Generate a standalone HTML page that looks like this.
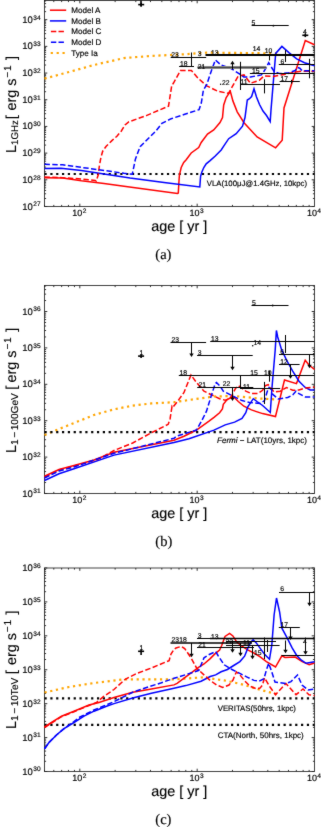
<!DOCTYPE html>
<html><head><meta charset="utf-8"><style>
html,body{margin:0;padding:0;background:#fff;}
body{width:321px;height:827px;overflow:hidden;}
svg{display:block;font-family:"Liberation Sans", sans-serif;text-rendering:geometricPrecision;will-change:transform;} text{stroke:#000;stroke-width:0.16px;} .nb{stroke-width:0.14px;}
</style></head><body>
<svg width="321" height="827" viewBox="0 0 321 827">
<defs><filter id="bl" color-interpolation-filters="sRGB" x="0" y="0" width="321" height="827" filterUnits="userSpaceOnUse" primitiveUnits="userSpaceOnUse"><feConvolveMatrix order="3" kernelMatrix="0.015 0.06 0.015 0.06 0.7 0.06 0.015 0.06 0.015" edgeMode="duplicate"/></filter></defs>
<g filter="url(#bl)">
<rect x="0" y="0" width="321" height="827" fill="#fff"/>
<line x1="44.50" y1="206.50" x2="44.50" y2="204.90" stroke="#000" stroke-width="0.8" />
<line x1="44.50" y1="0.50" x2="44.50" y2="2.10" stroke="#000" stroke-width="0.8" />
<line x1="53.79" y1="206.50" x2="53.79" y2="204.90" stroke="#000" stroke-width="0.8" />
<line x1="53.79" y1="0.50" x2="53.79" y2="2.10" stroke="#000" stroke-width="0.8" />
<line x1="61.65" y1="206.50" x2="61.65" y2="204.90" stroke="#000" stroke-width="0.8" />
<line x1="61.65" y1="0.50" x2="61.65" y2="2.10" stroke="#000" stroke-width="0.8" />
<line x1="68.45" y1="206.50" x2="68.45" y2="204.90" stroke="#000" stroke-width="0.8" />
<line x1="68.45" y1="0.50" x2="68.45" y2="2.10" stroke="#000" stroke-width="0.8" />
<line x1="74.45" y1="206.50" x2="74.45" y2="204.90" stroke="#000" stroke-width="0.8" />
<line x1="74.45" y1="0.50" x2="74.45" y2="2.10" stroke="#000" stroke-width="0.8" />
<line x1="79.82" y1="206.50" x2="79.82" y2="203.70" stroke="#000" stroke-width="0.8" />
<line x1="79.82" y1="0.50" x2="79.82" y2="3.30" stroke="#000" stroke-width="0.8" />
<line x1="115.14" y1="206.50" x2="115.14" y2="204.90" stroke="#000" stroke-width="0.8" />
<line x1="115.14" y1="0.50" x2="115.14" y2="2.10" stroke="#000" stroke-width="0.8" />
<line x1="135.81" y1="206.50" x2="135.81" y2="204.90" stroke="#000" stroke-width="0.8" />
<line x1="135.81" y1="0.50" x2="135.81" y2="2.10" stroke="#000" stroke-width="0.8" />
<line x1="150.47" y1="206.50" x2="150.47" y2="204.90" stroke="#000" stroke-width="0.8" />
<line x1="150.47" y1="0.50" x2="150.47" y2="2.10" stroke="#000" stroke-width="0.8" />
<line x1="161.84" y1="206.50" x2="161.84" y2="204.90" stroke="#000" stroke-width="0.8" />
<line x1="161.84" y1="0.50" x2="161.84" y2="2.10" stroke="#000" stroke-width="0.8" />
<line x1="171.13" y1="206.50" x2="171.13" y2="204.90" stroke="#000" stroke-width="0.8" />
<line x1="171.13" y1="0.50" x2="171.13" y2="2.10" stroke="#000" stroke-width="0.8" />
<line x1="178.99" y1="206.50" x2="178.99" y2="204.90" stroke="#000" stroke-width="0.8" />
<line x1="178.99" y1="0.50" x2="178.99" y2="2.10" stroke="#000" stroke-width="0.8" />
<line x1="185.79" y1="206.50" x2="185.79" y2="204.90" stroke="#000" stroke-width="0.8" />
<line x1="185.79" y1="0.50" x2="185.79" y2="2.10" stroke="#000" stroke-width="0.8" />
<line x1="191.79" y1="206.50" x2="191.79" y2="204.90" stroke="#000" stroke-width="0.8" />
<line x1="191.79" y1="0.50" x2="191.79" y2="2.10" stroke="#000" stroke-width="0.8" />
<line x1="197.16" y1="206.50" x2="197.16" y2="203.70" stroke="#000" stroke-width="0.8" />
<line x1="197.16" y1="0.50" x2="197.16" y2="3.30" stroke="#000" stroke-width="0.8" />
<line x1="232.48" y1="206.50" x2="232.48" y2="204.90" stroke="#000" stroke-width="0.8" />
<line x1="232.48" y1="0.50" x2="232.48" y2="2.10" stroke="#000" stroke-width="0.8" />
<line x1="253.15" y1="206.50" x2="253.15" y2="204.90" stroke="#000" stroke-width="0.8" />
<line x1="253.15" y1="0.50" x2="253.15" y2="2.10" stroke="#000" stroke-width="0.8" />
<line x1="267.81" y1="206.50" x2="267.81" y2="204.90" stroke="#000" stroke-width="0.8" />
<line x1="267.81" y1="0.50" x2="267.81" y2="2.10" stroke="#000" stroke-width="0.8" />
<line x1="279.18" y1="206.50" x2="279.18" y2="204.90" stroke="#000" stroke-width="0.8" />
<line x1="279.18" y1="0.50" x2="279.18" y2="2.10" stroke="#000" stroke-width="0.8" />
<line x1="288.47" y1="206.50" x2="288.47" y2="204.90" stroke="#000" stroke-width="0.8" />
<line x1="288.47" y1="0.50" x2="288.47" y2="2.10" stroke="#000" stroke-width="0.8" />
<line x1="296.32" y1="206.50" x2="296.32" y2="204.90" stroke="#000" stroke-width="0.8" />
<line x1="296.32" y1="0.50" x2="296.32" y2="2.10" stroke="#000" stroke-width="0.8" />
<line x1="303.13" y1="206.50" x2="303.13" y2="204.90" stroke="#000" stroke-width="0.8" />
<line x1="303.13" y1="0.50" x2="303.13" y2="2.10" stroke="#000" stroke-width="0.8" />
<line x1="309.13" y1="206.50" x2="309.13" y2="204.90" stroke="#000" stroke-width="0.8" />
<line x1="309.13" y1="0.50" x2="309.13" y2="2.10" stroke="#000" stroke-width="0.8" />
<line x1="44.50" y1="206.50" x2="47.30" y2="206.50" stroke="#000" stroke-width="0.8" />
<line x1="314.50" y1="206.50" x2="311.70" y2="206.50" stroke="#000" stroke-width="0.8" />
<line x1="44.50" y1="198.47" x2="46.10" y2="198.47" stroke="#000" stroke-width="0.8" />
<line x1="314.50" y1="198.47" x2="312.90" y2="198.47" stroke="#000" stroke-width="0.8" />
<line x1="44.50" y1="193.77" x2="46.10" y2="193.77" stroke="#000" stroke-width="0.8" />
<line x1="314.50" y1="193.77" x2="312.90" y2="193.77" stroke="#000" stroke-width="0.8" />
<line x1="44.50" y1="190.43" x2="46.10" y2="190.43" stroke="#000" stroke-width="0.8" />
<line x1="314.50" y1="190.43" x2="312.90" y2="190.43" stroke="#000" stroke-width="0.8" />
<line x1="44.50" y1="187.84" x2="46.10" y2="187.84" stroke="#000" stroke-width="0.8" />
<line x1="314.50" y1="187.84" x2="312.90" y2="187.84" stroke="#000" stroke-width="0.8" />
<line x1="44.50" y1="185.73" x2="46.10" y2="185.73" stroke="#000" stroke-width="0.8" />
<line x1="314.50" y1="185.73" x2="312.90" y2="185.73" stroke="#000" stroke-width="0.8" />
<line x1="44.50" y1="183.94" x2="46.10" y2="183.94" stroke="#000" stroke-width="0.8" />
<line x1="314.50" y1="183.94" x2="312.90" y2="183.94" stroke="#000" stroke-width="0.8" />
<line x1="44.50" y1="182.40" x2="46.10" y2="182.40" stroke="#000" stroke-width="0.8" />
<line x1="314.50" y1="182.40" x2="312.90" y2="182.40" stroke="#000" stroke-width="0.8" />
<line x1="44.50" y1="181.03" x2="46.10" y2="181.03" stroke="#000" stroke-width="0.8" />
<line x1="314.50" y1="181.03" x2="312.90" y2="181.03" stroke="#000" stroke-width="0.8" />
<line x1="44.50" y1="179.81" x2="47.30" y2="179.81" stroke="#000" stroke-width="0.8" />
<line x1="314.50" y1="179.81" x2="311.70" y2="179.81" stroke="#000" stroke-width="0.8" />
<line x1="44.50" y1="171.78" x2="46.10" y2="171.78" stroke="#000" stroke-width="0.8" />
<line x1="314.50" y1="171.78" x2="312.90" y2="171.78" stroke="#000" stroke-width="0.8" />
<line x1="44.50" y1="167.08" x2="46.10" y2="167.08" stroke="#000" stroke-width="0.8" />
<line x1="314.50" y1="167.08" x2="312.90" y2="167.08" stroke="#000" stroke-width="0.8" />
<line x1="44.50" y1="163.74" x2="46.10" y2="163.74" stroke="#000" stroke-width="0.8" />
<line x1="314.50" y1="163.74" x2="312.90" y2="163.74" stroke="#000" stroke-width="0.8" />
<line x1="44.50" y1="161.15" x2="46.10" y2="161.15" stroke="#000" stroke-width="0.8" />
<line x1="314.50" y1="161.15" x2="312.90" y2="161.15" stroke="#000" stroke-width="0.8" />
<line x1="44.50" y1="159.04" x2="46.10" y2="159.04" stroke="#000" stroke-width="0.8" />
<line x1="314.50" y1="159.04" x2="312.90" y2="159.04" stroke="#000" stroke-width="0.8" />
<line x1="44.50" y1="157.25" x2="46.10" y2="157.25" stroke="#000" stroke-width="0.8" />
<line x1="314.50" y1="157.25" x2="312.90" y2="157.25" stroke="#000" stroke-width="0.8" />
<line x1="44.50" y1="155.71" x2="46.10" y2="155.71" stroke="#000" stroke-width="0.8" />
<line x1="314.50" y1="155.71" x2="312.90" y2="155.71" stroke="#000" stroke-width="0.8" />
<line x1="44.50" y1="154.34" x2="46.10" y2="154.34" stroke="#000" stroke-width="0.8" />
<line x1="314.50" y1="154.34" x2="312.90" y2="154.34" stroke="#000" stroke-width="0.8" />
<line x1="44.50" y1="153.12" x2="47.30" y2="153.12" stroke="#000" stroke-width="0.8" />
<line x1="314.50" y1="153.12" x2="311.70" y2="153.12" stroke="#000" stroke-width="0.8" />
<line x1="44.50" y1="145.09" x2="46.10" y2="145.09" stroke="#000" stroke-width="0.8" />
<line x1="314.50" y1="145.09" x2="312.90" y2="145.09" stroke="#000" stroke-width="0.8" />
<line x1="44.50" y1="140.39" x2="46.10" y2="140.39" stroke="#000" stroke-width="0.8" />
<line x1="314.50" y1="140.39" x2="312.90" y2="140.39" stroke="#000" stroke-width="0.8" />
<line x1="44.50" y1="137.05" x2="46.10" y2="137.05" stroke="#000" stroke-width="0.8" />
<line x1="314.50" y1="137.05" x2="312.90" y2="137.05" stroke="#000" stroke-width="0.8" />
<line x1="44.50" y1="134.46" x2="46.10" y2="134.46" stroke="#000" stroke-width="0.8" />
<line x1="314.50" y1="134.46" x2="312.90" y2="134.46" stroke="#000" stroke-width="0.8" />
<line x1="44.50" y1="132.35" x2="46.10" y2="132.35" stroke="#000" stroke-width="0.8" />
<line x1="314.50" y1="132.35" x2="312.90" y2="132.35" stroke="#000" stroke-width="0.8" />
<line x1="44.50" y1="130.56" x2="46.10" y2="130.56" stroke="#000" stroke-width="0.8" />
<line x1="314.50" y1="130.56" x2="312.90" y2="130.56" stroke="#000" stroke-width="0.8" />
<line x1="44.50" y1="129.02" x2="46.10" y2="129.02" stroke="#000" stroke-width="0.8" />
<line x1="314.50" y1="129.02" x2="312.90" y2="129.02" stroke="#000" stroke-width="0.8" />
<line x1="44.50" y1="127.65" x2="46.10" y2="127.65" stroke="#000" stroke-width="0.8" />
<line x1="314.50" y1="127.65" x2="312.90" y2="127.65" stroke="#000" stroke-width="0.8" />
<line x1="44.50" y1="126.43" x2="47.30" y2="126.43" stroke="#000" stroke-width="0.8" />
<line x1="314.50" y1="126.43" x2="311.70" y2="126.43" stroke="#000" stroke-width="0.8" />
<line x1="44.50" y1="118.40" x2="46.10" y2="118.40" stroke="#000" stroke-width="0.8" />
<line x1="314.50" y1="118.40" x2="312.90" y2="118.40" stroke="#000" stroke-width="0.8" />
<line x1="44.50" y1="113.70" x2="46.10" y2="113.70" stroke="#000" stroke-width="0.8" />
<line x1="314.50" y1="113.70" x2="312.90" y2="113.70" stroke="#000" stroke-width="0.8" />
<line x1="44.50" y1="110.36" x2="46.10" y2="110.36" stroke="#000" stroke-width="0.8" />
<line x1="314.50" y1="110.36" x2="312.90" y2="110.36" stroke="#000" stroke-width="0.8" />
<line x1="44.50" y1="107.77" x2="46.10" y2="107.77" stroke="#000" stroke-width="0.8" />
<line x1="314.50" y1="107.77" x2="312.90" y2="107.77" stroke="#000" stroke-width="0.8" />
<line x1="44.50" y1="105.66" x2="46.10" y2="105.66" stroke="#000" stroke-width="0.8" />
<line x1="314.50" y1="105.66" x2="312.90" y2="105.66" stroke="#000" stroke-width="0.8" />
<line x1="44.50" y1="103.87" x2="46.10" y2="103.87" stroke="#000" stroke-width="0.8" />
<line x1="314.50" y1="103.87" x2="312.90" y2="103.87" stroke="#000" stroke-width="0.8" />
<line x1="44.50" y1="102.33" x2="46.10" y2="102.33" stroke="#000" stroke-width="0.8" />
<line x1="314.50" y1="102.33" x2="312.90" y2="102.33" stroke="#000" stroke-width="0.8" />
<line x1="44.50" y1="100.96" x2="46.10" y2="100.96" stroke="#000" stroke-width="0.8" />
<line x1="314.50" y1="100.96" x2="312.90" y2="100.96" stroke="#000" stroke-width="0.8" />
<line x1="44.50" y1="99.74" x2="47.30" y2="99.74" stroke="#000" stroke-width="0.8" />
<line x1="314.50" y1="99.74" x2="311.70" y2="99.74" stroke="#000" stroke-width="0.8" />
<line x1="44.50" y1="91.71" x2="46.10" y2="91.71" stroke="#000" stroke-width="0.8" />
<line x1="314.50" y1="91.71" x2="312.90" y2="91.71" stroke="#000" stroke-width="0.8" />
<line x1="44.50" y1="87.01" x2="46.10" y2="87.01" stroke="#000" stroke-width="0.8" />
<line x1="314.50" y1="87.01" x2="312.90" y2="87.01" stroke="#000" stroke-width="0.8" />
<line x1="44.50" y1="83.67" x2="46.10" y2="83.67" stroke="#000" stroke-width="0.8" />
<line x1="314.50" y1="83.67" x2="312.90" y2="83.67" stroke="#000" stroke-width="0.8" />
<line x1="44.50" y1="81.08" x2="46.10" y2="81.08" stroke="#000" stroke-width="0.8" />
<line x1="314.50" y1="81.08" x2="312.90" y2="81.08" stroke="#000" stroke-width="0.8" />
<line x1="44.50" y1="78.97" x2="46.10" y2="78.97" stroke="#000" stroke-width="0.8" />
<line x1="314.50" y1="78.97" x2="312.90" y2="78.97" stroke="#000" stroke-width="0.8" />
<line x1="44.50" y1="77.18" x2="46.10" y2="77.18" stroke="#000" stroke-width="0.8" />
<line x1="314.50" y1="77.18" x2="312.90" y2="77.18" stroke="#000" stroke-width="0.8" />
<line x1="44.50" y1="75.64" x2="46.10" y2="75.64" stroke="#000" stroke-width="0.8" />
<line x1="314.50" y1="75.64" x2="312.90" y2="75.64" stroke="#000" stroke-width="0.8" />
<line x1="44.50" y1="74.27" x2="46.10" y2="74.27" stroke="#000" stroke-width="0.8" />
<line x1="314.50" y1="74.27" x2="312.90" y2="74.27" stroke="#000" stroke-width="0.8" />
<line x1="44.50" y1="73.05" x2="47.30" y2="73.05" stroke="#000" stroke-width="0.8" />
<line x1="314.50" y1="73.05" x2="311.70" y2="73.05" stroke="#000" stroke-width="0.8" />
<line x1="44.50" y1="65.02" x2="46.10" y2="65.02" stroke="#000" stroke-width="0.8" />
<line x1="314.50" y1="65.02" x2="312.90" y2="65.02" stroke="#000" stroke-width="0.8" />
<line x1="44.50" y1="60.32" x2="46.10" y2="60.32" stroke="#000" stroke-width="0.8" />
<line x1="314.50" y1="60.32" x2="312.90" y2="60.32" stroke="#000" stroke-width="0.8" />
<line x1="44.50" y1="56.98" x2="46.10" y2="56.98" stroke="#000" stroke-width="0.8" />
<line x1="314.50" y1="56.98" x2="312.90" y2="56.98" stroke="#000" stroke-width="0.8" />
<line x1="44.50" y1="54.39" x2="46.10" y2="54.39" stroke="#000" stroke-width="0.8" />
<line x1="314.50" y1="54.39" x2="312.90" y2="54.39" stroke="#000" stroke-width="0.8" />
<line x1="44.50" y1="52.28" x2="46.10" y2="52.28" stroke="#000" stroke-width="0.8" />
<line x1="314.50" y1="52.28" x2="312.90" y2="52.28" stroke="#000" stroke-width="0.8" />
<line x1="44.50" y1="50.49" x2="46.10" y2="50.49" stroke="#000" stroke-width="0.8" />
<line x1="314.50" y1="50.49" x2="312.90" y2="50.49" stroke="#000" stroke-width="0.8" />
<line x1="44.50" y1="48.95" x2="46.10" y2="48.95" stroke="#000" stroke-width="0.8" />
<line x1="314.50" y1="48.95" x2="312.90" y2="48.95" stroke="#000" stroke-width="0.8" />
<line x1="44.50" y1="47.58" x2="46.10" y2="47.58" stroke="#000" stroke-width="0.8" />
<line x1="314.50" y1="47.58" x2="312.90" y2="47.58" stroke="#000" stroke-width="0.8" />
<line x1="44.50" y1="46.36" x2="47.30" y2="46.36" stroke="#000" stroke-width="0.8" />
<line x1="314.50" y1="46.36" x2="311.70" y2="46.36" stroke="#000" stroke-width="0.8" />
<line x1="44.50" y1="38.33" x2="46.10" y2="38.33" stroke="#000" stroke-width="0.8" />
<line x1="314.50" y1="38.33" x2="312.90" y2="38.33" stroke="#000" stroke-width="0.8" />
<line x1="44.50" y1="33.63" x2="46.10" y2="33.63" stroke="#000" stroke-width="0.8" />
<line x1="314.50" y1="33.63" x2="312.90" y2="33.63" stroke="#000" stroke-width="0.8" />
<line x1="44.50" y1="30.29" x2="46.10" y2="30.29" stroke="#000" stroke-width="0.8" />
<line x1="314.50" y1="30.29" x2="312.90" y2="30.29" stroke="#000" stroke-width="0.8" />
<line x1="44.50" y1="27.70" x2="46.10" y2="27.70" stroke="#000" stroke-width="0.8" />
<line x1="314.50" y1="27.70" x2="312.90" y2="27.70" stroke="#000" stroke-width="0.8" />
<line x1="44.50" y1="25.59" x2="46.10" y2="25.59" stroke="#000" stroke-width="0.8" />
<line x1="314.50" y1="25.59" x2="312.90" y2="25.59" stroke="#000" stroke-width="0.8" />
<line x1="44.50" y1="23.80" x2="46.10" y2="23.80" stroke="#000" stroke-width="0.8" />
<line x1="314.50" y1="23.80" x2="312.90" y2="23.80" stroke="#000" stroke-width="0.8" />
<line x1="44.50" y1="22.26" x2="46.10" y2="22.26" stroke="#000" stroke-width="0.8" />
<line x1="314.50" y1="22.26" x2="312.90" y2="22.26" stroke="#000" stroke-width="0.8" />
<line x1="44.50" y1="20.89" x2="46.10" y2="20.89" stroke="#000" stroke-width="0.8" />
<line x1="314.50" y1="20.89" x2="312.90" y2="20.89" stroke="#000" stroke-width="0.8" />
<line x1="44.50" y1="19.67" x2="47.30" y2="19.67" stroke="#000" stroke-width="0.8" />
<line x1="314.50" y1="19.67" x2="311.70" y2="19.67" stroke="#000" stroke-width="0.8" />
<line x1="44.50" y1="11.64" x2="46.10" y2="11.64" stroke="#000" stroke-width="0.8" />
<line x1="314.50" y1="11.64" x2="312.90" y2="11.64" stroke="#000" stroke-width="0.8" />
<line x1="44.50" y1="6.94" x2="46.10" y2="6.94" stroke="#000" stroke-width="0.8" />
<line x1="314.50" y1="6.94" x2="312.90" y2="6.94" stroke="#000" stroke-width="0.8" />
<line x1="44.50" y1="3.60" x2="46.10" y2="3.60" stroke="#000" stroke-width="0.8" />
<line x1="314.50" y1="3.60" x2="312.90" y2="3.60" stroke="#000" stroke-width="0.8" />
<line x1="44.50" y1="1.01" x2="46.10" y2="1.01" stroke="#000" stroke-width="0.8" />
<line x1="314.50" y1="1.01" x2="312.90" y2="1.01" stroke="#000" stroke-width="0.8" />
<rect x="44.5" y="0.5" width="270.0" height="206.0" fill="none" stroke="#222" stroke-width="0.85"/>
<text x="40.60" y="209.50" font-size="9.5" text-anchor="end" >10<tspan font-size="6.6" dx="0.4" dy="-3.1">27</tspan></text>
<text x="40.60" y="182.81" font-size="9.5" text-anchor="end" >10<tspan font-size="6.6" dx="0.4" dy="-3.1">28</tspan></text>
<text x="40.60" y="156.12" font-size="9.5" text-anchor="end" >10<tspan font-size="6.6" dx="0.4" dy="-3.1">29</tspan></text>
<text x="40.60" y="129.43" font-size="9.5" text-anchor="end" >10<tspan font-size="6.6" dx="0.4" dy="-3.1">30</tspan></text>
<text x="40.60" y="102.74" font-size="9.5" text-anchor="end" >10<tspan font-size="6.6" dx="0.4" dy="-3.1">31</tspan></text>
<text x="40.60" y="76.05" font-size="9.5" text-anchor="end" >10<tspan font-size="6.6" dx="0.4" dy="-3.1">32</tspan></text>
<text x="40.60" y="49.36" font-size="9.5" text-anchor="end" >10<tspan font-size="6.6" dx="0.4" dy="-3.1">33</tspan></text>
<text x="40.60" y="22.67" font-size="9.5" text-anchor="end" >10<tspan font-size="6.6" dx="0.4" dy="-3.1">34</tspan></text>
<text x="72.22" y="215.60" font-size="9.0" text-anchor="start" >10<tspan font-size="6.6" dx="0.4" dy="-3.1">2</tspan></text>
<text x="189.56" y="215.60" font-size="9.0" text-anchor="start" >10<tspan font-size="6.6" dx="0.4" dy="-3.1">3</tspan></text>
<text x="306.90" y="215.60" font-size="9.0" text-anchor="start" >10<tspan font-size="6.6" dx="0.4" dy="-3.1">4</tspan></text>
<text x="151.20" y="230.80" font-size="14.4" text-anchor="start" class="nb">age [ yr ]</text>
<line x1="44.50" y1="493.50" x2="44.50" y2="491.90" stroke="#000" stroke-width="0.8" />
<line x1="44.50" y1="285.50" x2="44.50" y2="287.10" stroke="#000" stroke-width="0.8" />
<line x1="53.79" y1="493.50" x2="53.79" y2="491.90" stroke="#000" stroke-width="0.8" />
<line x1="53.79" y1="285.50" x2="53.79" y2="287.10" stroke="#000" stroke-width="0.8" />
<line x1="61.65" y1="493.50" x2="61.65" y2="491.90" stroke="#000" stroke-width="0.8" />
<line x1="61.65" y1="285.50" x2="61.65" y2="287.10" stroke="#000" stroke-width="0.8" />
<line x1="68.45" y1="493.50" x2="68.45" y2="491.90" stroke="#000" stroke-width="0.8" />
<line x1="68.45" y1="285.50" x2="68.45" y2="287.10" stroke="#000" stroke-width="0.8" />
<line x1="74.45" y1="493.50" x2="74.45" y2="491.90" stroke="#000" stroke-width="0.8" />
<line x1="74.45" y1="285.50" x2="74.45" y2="287.10" stroke="#000" stroke-width="0.8" />
<line x1="79.82" y1="493.50" x2="79.82" y2="490.70" stroke="#000" stroke-width="0.8" />
<line x1="79.82" y1="285.50" x2="79.82" y2="288.30" stroke="#000" stroke-width="0.8" />
<line x1="115.14" y1="493.50" x2="115.14" y2="491.90" stroke="#000" stroke-width="0.8" />
<line x1="115.14" y1="285.50" x2="115.14" y2="287.10" stroke="#000" stroke-width="0.8" />
<line x1="135.81" y1="493.50" x2="135.81" y2="491.90" stroke="#000" stroke-width="0.8" />
<line x1="135.81" y1="285.50" x2="135.81" y2="287.10" stroke="#000" stroke-width="0.8" />
<line x1="150.47" y1="493.50" x2="150.47" y2="491.90" stroke="#000" stroke-width="0.8" />
<line x1="150.47" y1="285.50" x2="150.47" y2="287.10" stroke="#000" stroke-width="0.8" />
<line x1="161.84" y1="493.50" x2="161.84" y2="491.90" stroke="#000" stroke-width="0.8" />
<line x1="161.84" y1="285.50" x2="161.84" y2="287.10" stroke="#000" stroke-width="0.8" />
<line x1="171.13" y1="493.50" x2="171.13" y2="491.90" stroke="#000" stroke-width="0.8" />
<line x1="171.13" y1="285.50" x2="171.13" y2="287.10" stroke="#000" stroke-width="0.8" />
<line x1="178.99" y1="493.50" x2="178.99" y2="491.90" stroke="#000" stroke-width="0.8" />
<line x1="178.99" y1="285.50" x2="178.99" y2="287.10" stroke="#000" stroke-width="0.8" />
<line x1="185.79" y1="493.50" x2="185.79" y2="491.90" stroke="#000" stroke-width="0.8" />
<line x1="185.79" y1="285.50" x2="185.79" y2="287.10" stroke="#000" stroke-width="0.8" />
<line x1="191.79" y1="493.50" x2="191.79" y2="491.90" stroke="#000" stroke-width="0.8" />
<line x1="191.79" y1="285.50" x2="191.79" y2="287.10" stroke="#000" stroke-width="0.8" />
<line x1="197.16" y1="493.50" x2="197.16" y2="490.70" stroke="#000" stroke-width="0.8" />
<line x1="197.16" y1="285.50" x2="197.16" y2="288.30" stroke="#000" stroke-width="0.8" />
<line x1="232.48" y1="493.50" x2="232.48" y2="491.90" stroke="#000" stroke-width="0.8" />
<line x1="232.48" y1="285.50" x2="232.48" y2="287.10" stroke="#000" stroke-width="0.8" />
<line x1="253.15" y1="493.50" x2="253.15" y2="491.90" stroke="#000" stroke-width="0.8" />
<line x1="253.15" y1="285.50" x2="253.15" y2="287.10" stroke="#000" stroke-width="0.8" />
<line x1="267.81" y1="493.50" x2="267.81" y2="491.90" stroke="#000" stroke-width="0.8" />
<line x1="267.81" y1="285.50" x2="267.81" y2="287.10" stroke="#000" stroke-width="0.8" />
<line x1="279.18" y1="493.50" x2="279.18" y2="491.90" stroke="#000" stroke-width="0.8" />
<line x1="279.18" y1="285.50" x2="279.18" y2="287.10" stroke="#000" stroke-width="0.8" />
<line x1="288.47" y1="493.50" x2="288.47" y2="491.90" stroke="#000" stroke-width="0.8" />
<line x1="288.47" y1="285.50" x2="288.47" y2="287.10" stroke="#000" stroke-width="0.8" />
<line x1="296.32" y1="493.50" x2="296.32" y2="491.90" stroke="#000" stroke-width="0.8" />
<line x1="296.32" y1="285.50" x2="296.32" y2="287.10" stroke="#000" stroke-width="0.8" />
<line x1="303.13" y1="493.50" x2="303.13" y2="491.90" stroke="#000" stroke-width="0.8" />
<line x1="303.13" y1="285.50" x2="303.13" y2="287.10" stroke="#000" stroke-width="0.8" />
<line x1="309.13" y1="493.50" x2="309.13" y2="491.90" stroke="#000" stroke-width="0.8" />
<line x1="309.13" y1="285.50" x2="309.13" y2="287.10" stroke="#000" stroke-width="0.8" />
<line x1="44.50" y1="493.50" x2="47.30" y2="493.50" stroke="#000" stroke-width="0.8" />
<line x1="314.50" y1="493.50" x2="311.70" y2="493.50" stroke="#000" stroke-width="0.8" />
<line x1="44.50" y1="482.54" x2="46.10" y2="482.54" stroke="#000" stroke-width="0.8" />
<line x1="314.50" y1="482.54" x2="312.90" y2="482.54" stroke="#000" stroke-width="0.8" />
<line x1="44.50" y1="476.13" x2="46.10" y2="476.13" stroke="#000" stroke-width="0.8" />
<line x1="314.50" y1="476.13" x2="312.90" y2="476.13" stroke="#000" stroke-width="0.8" />
<line x1="44.50" y1="471.59" x2="46.10" y2="471.59" stroke="#000" stroke-width="0.8" />
<line x1="314.50" y1="471.59" x2="312.90" y2="471.59" stroke="#000" stroke-width="0.8" />
<line x1="44.50" y1="468.06" x2="46.10" y2="468.06" stroke="#000" stroke-width="0.8" />
<line x1="314.50" y1="468.06" x2="312.90" y2="468.06" stroke="#000" stroke-width="0.8" />
<line x1="44.50" y1="465.18" x2="46.10" y2="465.18" stroke="#000" stroke-width="0.8" />
<line x1="314.50" y1="465.18" x2="312.90" y2="465.18" stroke="#000" stroke-width="0.8" />
<line x1="44.50" y1="462.74" x2="46.10" y2="462.74" stroke="#000" stroke-width="0.8" />
<line x1="314.50" y1="462.74" x2="312.90" y2="462.74" stroke="#000" stroke-width="0.8" />
<line x1="44.50" y1="460.63" x2="46.10" y2="460.63" stroke="#000" stroke-width="0.8" />
<line x1="314.50" y1="460.63" x2="312.90" y2="460.63" stroke="#000" stroke-width="0.8" />
<line x1="44.50" y1="458.77" x2="46.10" y2="458.77" stroke="#000" stroke-width="0.8" />
<line x1="314.50" y1="458.77" x2="312.90" y2="458.77" stroke="#000" stroke-width="0.8" />
<line x1="44.50" y1="457.10" x2="47.30" y2="457.10" stroke="#000" stroke-width="0.8" />
<line x1="314.50" y1="457.10" x2="311.70" y2="457.10" stroke="#000" stroke-width="0.8" />
<line x1="44.50" y1="446.14" x2="46.10" y2="446.14" stroke="#000" stroke-width="0.8" />
<line x1="314.50" y1="446.14" x2="312.90" y2="446.14" stroke="#000" stroke-width="0.8" />
<line x1="44.50" y1="439.73" x2="46.10" y2="439.73" stroke="#000" stroke-width="0.8" />
<line x1="314.50" y1="439.73" x2="312.90" y2="439.73" stroke="#000" stroke-width="0.8" />
<line x1="44.50" y1="435.19" x2="46.10" y2="435.19" stroke="#000" stroke-width="0.8" />
<line x1="314.50" y1="435.19" x2="312.90" y2="435.19" stroke="#000" stroke-width="0.8" />
<line x1="44.50" y1="431.66" x2="46.10" y2="431.66" stroke="#000" stroke-width="0.8" />
<line x1="314.50" y1="431.66" x2="312.90" y2="431.66" stroke="#000" stroke-width="0.8" />
<line x1="44.50" y1="428.78" x2="46.10" y2="428.78" stroke="#000" stroke-width="0.8" />
<line x1="314.50" y1="428.78" x2="312.90" y2="428.78" stroke="#000" stroke-width="0.8" />
<line x1="44.50" y1="426.34" x2="46.10" y2="426.34" stroke="#000" stroke-width="0.8" />
<line x1="314.50" y1="426.34" x2="312.90" y2="426.34" stroke="#000" stroke-width="0.8" />
<line x1="44.50" y1="424.23" x2="46.10" y2="424.23" stroke="#000" stroke-width="0.8" />
<line x1="314.50" y1="424.23" x2="312.90" y2="424.23" stroke="#000" stroke-width="0.8" />
<line x1="44.50" y1="422.37" x2="46.10" y2="422.37" stroke="#000" stroke-width="0.8" />
<line x1="314.50" y1="422.37" x2="312.90" y2="422.37" stroke="#000" stroke-width="0.8" />
<line x1="44.50" y1="420.70" x2="47.30" y2="420.70" stroke="#000" stroke-width="0.8" />
<line x1="314.50" y1="420.70" x2="311.70" y2="420.70" stroke="#000" stroke-width="0.8" />
<line x1="44.50" y1="409.74" x2="46.10" y2="409.74" stroke="#000" stroke-width="0.8" />
<line x1="314.50" y1="409.74" x2="312.90" y2="409.74" stroke="#000" stroke-width="0.8" />
<line x1="44.50" y1="403.33" x2="46.10" y2="403.33" stroke="#000" stroke-width="0.8" />
<line x1="314.50" y1="403.33" x2="312.90" y2="403.33" stroke="#000" stroke-width="0.8" />
<line x1="44.50" y1="398.79" x2="46.10" y2="398.79" stroke="#000" stroke-width="0.8" />
<line x1="314.50" y1="398.79" x2="312.90" y2="398.79" stroke="#000" stroke-width="0.8" />
<line x1="44.50" y1="395.26" x2="46.10" y2="395.26" stroke="#000" stroke-width="0.8" />
<line x1="314.50" y1="395.26" x2="312.90" y2="395.26" stroke="#000" stroke-width="0.8" />
<line x1="44.50" y1="392.38" x2="46.10" y2="392.38" stroke="#000" stroke-width="0.8" />
<line x1="314.50" y1="392.38" x2="312.90" y2="392.38" stroke="#000" stroke-width="0.8" />
<line x1="44.50" y1="389.94" x2="46.10" y2="389.94" stroke="#000" stroke-width="0.8" />
<line x1="314.50" y1="389.94" x2="312.90" y2="389.94" stroke="#000" stroke-width="0.8" />
<line x1="44.50" y1="387.83" x2="46.10" y2="387.83" stroke="#000" stroke-width="0.8" />
<line x1="314.50" y1="387.83" x2="312.90" y2="387.83" stroke="#000" stroke-width="0.8" />
<line x1="44.50" y1="385.97" x2="46.10" y2="385.97" stroke="#000" stroke-width="0.8" />
<line x1="314.50" y1="385.97" x2="312.90" y2="385.97" stroke="#000" stroke-width="0.8" />
<line x1="44.50" y1="384.30" x2="47.30" y2="384.30" stroke="#000" stroke-width="0.8" />
<line x1="314.50" y1="384.30" x2="311.70" y2="384.30" stroke="#000" stroke-width="0.8" />
<line x1="44.50" y1="373.34" x2="46.10" y2="373.34" stroke="#000" stroke-width="0.8" />
<line x1="314.50" y1="373.34" x2="312.90" y2="373.34" stroke="#000" stroke-width="0.8" />
<line x1="44.50" y1="366.93" x2="46.10" y2="366.93" stroke="#000" stroke-width="0.8" />
<line x1="314.50" y1="366.93" x2="312.90" y2="366.93" stroke="#000" stroke-width="0.8" />
<line x1="44.50" y1="362.39" x2="46.10" y2="362.39" stroke="#000" stroke-width="0.8" />
<line x1="314.50" y1="362.39" x2="312.90" y2="362.39" stroke="#000" stroke-width="0.8" />
<line x1="44.50" y1="358.86" x2="46.10" y2="358.86" stroke="#000" stroke-width="0.8" />
<line x1="314.50" y1="358.86" x2="312.90" y2="358.86" stroke="#000" stroke-width="0.8" />
<line x1="44.50" y1="355.98" x2="46.10" y2="355.98" stroke="#000" stroke-width="0.8" />
<line x1="314.50" y1="355.98" x2="312.90" y2="355.98" stroke="#000" stroke-width="0.8" />
<line x1="44.50" y1="353.54" x2="46.10" y2="353.54" stroke="#000" stroke-width="0.8" />
<line x1="314.50" y1="353.54" x2="312.90" y2="353.54" stroke="#000" stroke-width="0.8" />
<line x1="44.50" y1="351.43" x2="46.10" y2="351.43" stroke="#000" stroke-width="0.8" />
<line x1="314.50" y1="351.43" x2="312.90" y2="351.43" stroke="#000" stroke-width="0.8" />
<line x1="44.50" y1="349.57" x2="46.10" y2="349.57" stroke="#000" stroke-width="0.8" />
<line x1="314.50" y1="349.57" x2="312.90" y2="349.57" stroke="#000" stroke-width="0.8" />
<line x1="44.50" y1="347.90" x2="47.30" y2="347.90" stroke="#000" stroke-width="0.8" />
<line x1="314.50" y1="347.90" x2="311.70" y2="347.90" stroke="#000" stroke-width="0.8" />
<line x1="44.50" y1="336.94" x2="46.10" y2="336.94" stroke="#000" stroke-width="0.8" />
<line x1="314.50" y1="336.94" x2="312.90" y2="336.94" stroke="#000" stroke-width="0.8" />
<line x1="44.50" y1="330.53" x2="46.10" y2="330.53" stroke="#000" stroke-width="0.8" />
<line x1="314.50" y1="330.53" x2="312.90" y2="330.53" stroke="#000" stroke-width="0.8" />
<line x1="44.50" y1="325.99" x2="46.10" y2="325.99" stroke="#000" stroke-width="0.8" />
<line x1="314.50" y1="325.99" x2="312.90" y2="325.99" stroke="#000" stroke-width="0.8" />
<line x1="44.50" y1="322.46" x2="46.10" y2="322.46" stroke="#000" stroke-width="0.8" />
<line x1="314.50" y1="322.46" x2="312.90" y2="322.46" stroke="#000" stroke-width="0.8" />
<line x1="44.50" y1="319.58" x2="46.10" y2="319.58" stroke="#000" stroke-width="0.8" />
<line x1="314.50" y1="319.58" x2="312.90" y2="319.58" stroke="#000" stroke-width="0.8" />
<line x1="44.50" y1="317.14" x2="46.10" y2="317.14" stroke="#000" stroke-width="0.8" />
<line x1="314.50" y1="317.14" x2="312.90" y2="317.14" stroke="#000" stroke-width="0.8" />
<line x1="44.50" y1="315.03" x2="46.10" y2="315.03" stroke="#000" stroke-width="0.8" />
<line x1="314.50" y1="315.03" x2="312.90" y2="315.03" stroke="#000" stroke-width="0.8" />
<line x1="44.50" y1="313.17" x2="46.10" y2="313.17" stroke="#000" stroke-width="0.8" />
<line x1="314.50" y1="313.17" x2="312.90" y2="313.17" stroke="#000" stroke-width="0.8" />
<line x1="44.50" y1="311.50" x2="47.30" y2="311.50" stroke="#000" stroke-width="0.8" />
<line x1="314.50" y1="311.50" x2="311.70" y2="311.50" stroke="#000" stroke-width="0.8" />
<line x1="44.50" y1="300.54" x2="46.10" y2="300.54" stroke="#000" stroke-width="0.8" />
<line x1="314.50" y1="300.54" x2="312.90" y2="300.54" stroke="#000" stroke-width="0.8" />
<line x1="44.50" y1="294.13" x2="46.10" y2="294.13" stroke="#000" stroke-width="0.8" />
<line x1="314.50" y1="294.13" x2="312.90" y2="294.13" stroke="#000" stroke-width="0.8" />
<line x1="44.50" y1="289.59" x2="46.10" y2="289.59" stroke="#000" stroke-width="0.8" />
<line x1="314.50" y1="289.59" x2="312.90" y2="289.59" stroke="#000" stroke-width="0.8" />
<line x1="44.50" y1="286.06" x2="46.10" y2="286.06" stroke="#000" stroke-width="0.8" />
<line x1="314.50" y1="286.06" x2="312.90" y2="286.06" stroke="#000" stroke-width="0.8" />
<rect x="44.5" y="285.5" width="270.0" height="208.0" fill="none" stroke="#222" stroke-width="0.85"/>
<text x="40.60" y="496.50" font-size="9.5" text-anchor="end" >10<tspan font-size="6.6" dx="0.4" dy="-3.1">31</tspan></text>
<text x="40.60" y="460.10" font-size="9.5" text-anchor="end" >10<tspan font-size="6.6" dx="0.4" dy="-3.1">32</tspan></text>
<text x="40.60" y="423.70" font-size="9.5" text-anchor="end" >10<tspan font-size="6.6" dx="0.4" dy="-3.1">33</tspan></text>
<text x="40.60" y="387.30" font-size="9.5" text-anchor="end" >10<tspan font-size="6.6" dx="0.4" dy="-3.1">34</tspan></text>
<text x="40.60" y="350.90" font-size="9.5" text-anchor="end" >10<tspan font-size="6.6" dx="0.4" dy="-3.1">35</tspan></text>
<text x="40.60" y="314.50" font-size="9.5" text-anchor="end" >10<tspan font-size="6.6" dx="0.4" dy="-3.1">36</tspan></text>
<text x="72.22" y="502.60" font-size="9.0" text-anchor="start" >10<tspan font-size="6.6" dx="0.4" dy="-3.1">2</tspan></text>
<text x="189.56" y="502.60" font-size="9.0" text-anchor="start" >10<tspan font-size="6.6" dx="0.4" dy="-3.1">3</tspan></text>
<text x="306.90" y="502.60" font-size="9.0" text-anchor="start" >10<tspan font-size="6.6" dx="0.4" dy="-3.1">4</tspan></text>
<text x="151.20" y="517.80" font-size="14.4" text-anchor="start" class="nb">age [ yr ]</text>
<line x1="44.50" y1="771.50" x2="44.50" y2="769.90" stroke="#000" stroke-width="0.8" />
<line x1="44.50" y1="568.00" x2="44.50" y2="569.60" stroke="#000" stroke-width="0.8" />
<line x1="53.79" y1="771.50" x2="53.79" y2="769.90" stroke="#000" stroke-width="0.8" />
<line x1="53.79" y1="568.00" x2="53.79" y2="569.60" stroke="#000" stroke-width="0.8" />
<line x1="61.65" y1="771.50" x2="61.65" y2="769.90" stroke="#000" stroke-width="0.8" />
<line x1="61.65" y1="568.00" x2="61.65" y2="569.60" stroke="#000" stroke-width="0.8" />
<line x1="68.45" y1="771.50" x2="68.45" y2="769.90" stroke="#000" stroke-width="0.8" />
<line x1="68.45" y1="568.00" x2="68.45" y2="569.60" stroke="#000" stroke-width="0.8" />
<line x1="74.45" y1="771.50" x2="74.45" y2="769.90" stroke="#000" stroke-width="0.8" />
<line x1="74.45" y1="568.00" x2="74.45" y2="569.60" stroke="#000" stroke-width="0.8" />
<line x1="79.82" y1="771.50" x2="79.82" y2="768.70" stroke="#000" stroke-width="0.8" />
<line x1="79.82" y1="568.00" x2="79.82" y2="570.80" stroke="#000" stroke-width="0.8" />
<line x1="115.14" y1="771.50" x2="115.14" y2="769.90" stroke="#000" stroke-width="0.8" />
<line x1="115.14" y1="568.00" x2="115.14" y2="569.60" stroke="#000" stroke-width="0.8" />
<line x1="135.81" y1="771.50" x2="135.81" y2="769.90" stroke="#000" stroke-width="0.8" />
<line x1="135.81" y1="568.00" x2="135.81" y2="569.60" stroke="#000" stroke-width="0.8" />
<line x1="150.47" y1="771.50" x2="150.47" y2="769.90" stroke="#000" stroke-width="0.8" />
<line x1="150.47" y1="568.00" x2="150.47" y2="569.60" stroke="#000" stroke-width="0.8" />
<line x1="161.84" y1="771.50" x2="161.84" y2="769.90" stroke="#000" stroke-width="0.8" />
<line x1="161.84" y1="568.00" x2="161.84" y2="569.60" stroke="#000" stroke-width="0.8" />
<line x1="171.13" y1="771.50" x2="171.13" y2="769.90" stroke="#000" stroke-width="0.8" />
<line x1="171.13" y1="568.00" x2="171.13" y2="569.60" stroke="#000" stroke-width="0.8" />
<line x1="178.99" y1="771.50" x2="178.99" y2="769.90" stroke="#000" stroke-width="0.8" />
<line x1="178.99" y1="568.00" x2="178.99" y2="569.60" stroke="#000" stroke-width="0.8" />
<line x1="185.79" y1="771.50" x2="185.79" y2="769.90" stroke="#000" stroke-width="0.8" />
<line x1="185.79" y1="568.00" x2="185.79" y2="569.60" stroke="#000" stroke-width="0.8" />
<line x1="191.79" y1="771.50" x2="191.79" y2="769.90" stroke="#000" stroke-width="0.8" />
<line x1="191.79" y1="568.00" x2="191.79" y2="569.60" stroke="#000" stroke-width="0.8" />
<line x1="197.16" y1="771.50" x2="197.16" y2="768.70" stroke="#000" stroke-width="0.8" />
<line x1="197.16" y1="568.00" x2="197.16" y2="570.80" stroke="#000" stroke-width="0.8" />
<line x1="232.48" y1="771.50" x2="232.48" y2="769.90" stroke="#000" stroke-width="0.8" />
<line x1="232.48" y1="568.00" x2="232.48" y2="569.60" stroke="#000" stroke-width="0.8" />
<line x1="253.15" y1="771.50" x2="253.15" y2="769.90" stroke="#000" stroke-width="0.8" />
<line x1="253.15" y1="568.00" x2="253.15" y2="569.60" stroke="#000" stroke-width="0.8" />
<line x1="267.81" y1="771.50" x2="267.81" y2="769.90" stroke="#000" stroke-width="0.8" />
<line x1="267.81" y1="568.00" x2="267.81" y2="569.60" stroke="#000" stroke-width="0.8" />
<line x1="279.18" y1="771.50" x2="279.18" y2="769.90" stroke="#000" stroke-width="0.8" />
<line x1="279.18" y1="568.00" x2="279.18" y2="569.60" stroke="#000" stroke-width="0.8" />
<line x1="288.47" y1="771.50" x2="288.47" y2="769.90" stroke="#000" stroke-width="0.8" />
<line x1="288.47" y1="568.00" x2="288.47" y2="569.60" stroke="#000" stroke-width="0.8" />
<line x1="296.32" y1="771.50" x2="296.32" y2="769.90" stroke="#000" stroke-width="0.8" />
<line x1="296.32" y1="568.00" x2="296.32" y2="569.60" stroke="#000" stroke-width="0.8" />
<line x1="303.13" y1="771.50" x2="303.13" y2="769.90" stroke="#000" stroke-width="0.8" />
<line x1="303.13" y1="568.00" x2="303.13" y2="569.60" stroke="#000" stroke-width="0.8" />
<line x1="309.13" y1="771.50" x2="309.13" y2="769.90" stroke="#000" stroke-width="0.8" />
<line x1="309.13" y1="568.00" x2="309.13" y2="569.60" stroke="#000" stroke-width="0.8" />
<line x1="44.50" y1="771.50" x2="47.30" y2="771.50" stroke="#000" stroke-width="0.8" />
<line x1="314.50" y1="771.50" x2="311.70" y2="771.50" stroke="#000" stroke-width="0.8" />
<line x1="44.50" y1="761.29" x2="46.10" y2="761.29" stroke="#000" stroke-width="0.8" />
<line x1="314.50" y1="761.29" x2="312.90" y2="761.29" stroke="#000" stroke-width="0.8" />
<line x1="44.50" y1="755.32" x2="46.10" y2="755.32" stroke="#000" stroke-width="0.8" />
<line x1="314.50" y1="755.32" x2="312.90" y2="755.32" stroke="#000" stroke-width="0.8" />
<line x1="44.50" y1="751.08" x2="46.10" y2="751.08" stroke="#000" stroke-width="0.8" />
<line x1="314.50" y1="751.08" x2="312.90" y2="751.08" stroke="#000" stroke-width="0.8" />
<line x1="44.50" y1="747.79" x2="46.10" y2="747.79" stroke="#000" stroke-width="0.8" />
<line x1="314.50" y1="747.79" x2="312.90" y2="747.79" stroke="#000" stroke-width="0.8" />
<line x1="44.50" y1="745.11" x2="46.10" y2="745.11" stroke="#000" stroke-width="0.8" />
<line x1="314.50" y1="745.11" x2="312.90" y2="745.11" stroke="#000" stroke-width="0.8" />
<line x1="44.50" y1="742.83" x2="46.10" y2="742.83" stroke="#000" stroke-width="0.8" />
<line x1="314.50" y1="742.83" x2="312.90" y2="742.83" stroke="#000" stroke-width="0.8" />
<line x1="44.50" y1="740.87" x2="46.10" y2="740.87" stroke="#000" stroke-width="0.8" />
<line x1="314.50" y1="740.87" x2="312.90" y2="740.87" stroke="#000" stroke-width="0.8" />
<line x1="44.50" y1="739.13" x2="46.10" y2="739.13" stroke="#000" stroke-width="0.8" />
<line x1="314.50" y1="739.13" x2="312.90" y2="739.13" stroke="#000" stroke-width="0.8" />
<line x1="44.50" y1="737.58" x2="47.30" y2="737.58" stroke="#000" stroke-width="0.8" />
<line x1="314.50" y1="737.58" x2="311.70" y2="737.58" stroke="#000" stroke-width="0.8" />
<line x1="44.50" y1="727.37" x2="46.10" y2="727.37" stroke="#000" stroke-width="0.8" />
<line x1="314.50" y1="727.37" x2="312.90" y2="727.37" stroke="#000" stroke-width="0.8" />
<line x1="44.50" y1="721.40" x2="46.10" y2="721.40" stroke="#000" stroke-width="0.8" />
<line x1="314.50" y1="721.40" x2="312.90" y2="721.40" stroke="#000" stroke-width="0.8" />
<line x1="44.50" y1="717.16" x2="46.10" y2="717.16" stroke="#000" stroke-width="0.8" />
<line x1="314.50" y1="717.16" x2="312.90" y2="717.16" stroke="#000" stroke-width="0.8" />
<line x1="44.50" y1="713.87" x2="46.10" y2="713.87" stroke="#000" stroke-width="0.8" />
<line x1="314.50" y1="713.87" x2="312.90" y2="713.87" stroke="#000" stroke-width="0.8" />
<line x1="44.50" y1="711.19" x2="46.10" y2="711.19" stroke="#000" stroke-width="0.8" />
<line x1="314.50" y1="711.19" x2="312.90" y2="711.19" stroke="#000" stroke-width="0.8" />
<line x1="44.50" y1="708.91" x2="46.10" y2="708.91" stroke="#000" stroke-width="0.8" />
<line x1="314.50" y1="708.91" x2="312.90" y2="708.91" stroke="#000" stroke-width="0.8" />
<line x1="44.50" y1="706.95" x2="46.10" y2="706.95" stroke="#000" stroke-width="0.8" />
<line x1="314.50" y1="706.95" x2="312.90" y2="706.95" stroke="#000" stroke-width="0.8" />
<line x1="44.50" y1="705.21" x2="46.10" y2="705.21" stroke="#000" stroke-width="0.8" />
<line x1="314.50" y1="705.21" x2="312.90" y2="705.21" stroke="#000" stroke-width="0.8" />
<line x1="44.50" y1="703.66" x2="47.30" y2="703.66" stroke="#000" stroke-width="0.8" />
<line x1="314.50" y1="703.66" x2="311.70" y2="703.66" stroke="#000" stroke-width="0.8" />
<line x1="44.50" y1="693.45" x2="46.10" y2="693.45" stroke="#000" stroke-width="0.8" />
<line x1="314.50" y1="693.45" x2="312.90" y2="693.45" stroke="#000" stroke-width="0.8" />
<line x1="44.50" y1="687.48" x2="46.10" y2="687.48" stroke="#000" stroke-width="0.8" />
<line x1="314.50" y1="687.48" x2="312.90" y2="687.48" stroke="#000" stroke-width="0.8" />
<line x1="44.50" y1="683.24" x2="46.10" y2="683.24" stroke="#000" stroke-width="0.8" />
<line x1="314.50" y1="683.24" x2="312.90" y2="683.24" stroke="#000" stroke-width="0.8" />
<line x1="44.50" y1="679.95" x2="46.10" y2="679.95" stroke="#000" stroke-width="0.8" />
<line x1="314.50" y1="679.95" x2="312.90" y2="679.95" stroke="#000" stroke-width="0.8" />
<line x1="44.50" y1="677.27" x2="46.10" y2="677.27" stroke="#000" stroke-width="0.8" />
<line x1="314.50" y1="677.27" x2="312.90" y2="677.27" stroke="#000" stroke-width="0.8" />
<line x1="44.50" y1="674.99" x2="46.10" y2="674.99" stroke="#000" stroke-width="0.8" />
<line x1="314.50" y1="674.99" x2="312.90" y2="674.99" stroke="#000" stroke-width="0.8" />
<line x1="44.50" y1="673.03" x2="46.10" y2="673.03" stroke="#000" stroke-width="0.8" />
<line x1="314.50" y1="673.03" x2="312.90" y2="673.03" stroke="#000" stroke-width="0.8" />
<line x1="44.50" y1="671.29" x2="46.10" y2="671.29" stroke="#000" stroke-width="0.8" />
<line x1="314.50" y1="671.29" x2="312.90" y2="671.29" stroke="#000" stroke-width="0.8" />
<line x1="44.50" y1="669.74" x2="47.30" y2="669.74" stroke="#000" stroke-width="0.8" />
<line x1="314.50" y1="669.74" x2="311.70" y2="669.74" stroke="#000" stroke-width="0.8" />
<line x1="44.50" y1="659.53" x2="46.10" y2="659.53" stroke="#000" stroke-width="0.8" />
<line x1="314.50" y1="659.53" x2="312.90" y2="659.53" stroke="#000" stroke-width="0.8" />
<line x1="44.50" y1="653.56" x2="46.10" y2="653.56" stroke="#000" stroke-width="0.8" />
<line x1="314.50" y1="653.56" x2="312.90" y2="653.56" stroke="#000" stroke-width="0.8" />
<line x1="44.50" y1="649.32" x2="46.10" y2="649.32" stroke="#000" stroke-width="0.8" />
<line x1="314.50" y1="649.32" x2="312.90" y2="649.32" stroke="#000" stroke-width="0.8" />
<line x1="44.50" y1="646.03" x2="46.10" y2="646.03" stroke="#000" stroke-width="0.8" />
<line x1="314.50" y1="646.03" x2="312.90" y2="646.03" stroke="#000" stroke-width="0.8" />
<line x1="44.50" y1="643.35" x2="46.10" y2="643.35" stroke="#000" stroke-width="0.8" />
<line x1="314.50" y1="643.35" x2="312.90" y2="643.35" stroke="#000" stroke-width="0.8" />
<line x1="44.50" y1="641.07" x2="46.10" y2="641.07" stroke="#000" stroke-width="0.8" />
<line x1="314.50" y1="641.07" x2="312.90" y2="641.07" stroke="#000" stroke-width="0.8" />
<line x1="44.50" y1="639.11" x2="46.10" y2="639.11" stroke="#000" stroke-width="0.8" />
<line x1="314.50" y1="639.11" x2="312.90" y2="639.11" stroke="#000" stroke-width="0.8" />
<line x1="44.50" y1="637.37" x2="46.10" y2="637.37" stroke="#000" stroke-width="0.8" />
<line x1="314.50" y1="637.37" x2="312.90" y2="637.37" stroke="#000" stroke-width="0.8" />
<line x1="44.50" y1="635.82" x2="47.30" y2="635.82" stroke="#000" stroke-width="0.8" />
<line x1="314.50" y1="635.82" x2="311.70" y2="635.82" stroke="#000" stroke-width="0.8" />
<line x1="44.50" y1="625.61" x2="46.10" y2="625.61" stroke="#000" stroke-width="0.8" />
<line x1="314.50" y1="625.61" x2="312.90" y2="625.61" stroke="#000" stroke-width="0.8" />
<line x1="44.50" y1="619.64" x2="46.10" y2="619.64" stroke="#000" stroke-width="0.8" />
<line x1="314.50" y1="619.64" x2="312.90" y2="619.64" stroke="#000" stroke-width="0.8" />
<line x1="44.50" y1="615.40" x2="46.10" y2="615.40" stroke="#000" stroke-width="0.8" />
<line x1="314.50" y1="615.40" x2="312.90" y2="615.40" stroke="#000" stroke-width="0.8" />
<line x1="44.50" y1="612.11" x2="46.10" y2="612.11" stroke="#000" stroke-width="0.8" />
<line x1="314.50" y1="612.11" x2="312.90" y2="612.11" stroke="#000" stroke-width="0.8" />
<line x1="44.50" y1="609.43" x2="46.10" y2="609.43" stroke="#000" stroke-width="0.8" />
<line x1="314.50" y1="609.43" x2="312.90" y2="609.43" stroke="#000" stroke-width="0.8" />
<line x1="44.50" y1="607.15" x2="46.10" y2="607.15" stroke="#000" stroke-width="0.8" />
<line x1="314.50" y1="607.15" x2="312.90" y2="607.15" stroke="#000" stroke-width="0.8" />
<line x1="44.50" y1="605.19" x2="46.10" y2="605.19" stroke="#000" stroke-width="0.8" />
<line x1="314.50" y1="605.19" x2="312.90" y2="605.19" stroke="#000" stroke-width="0.8" />
<line x1="44.50" y1="603.45" x2="46.10" y2="603.45" stroke="#000" stroke-width="0.8" />
<line x1="314.50" y1="603.45" x2="312.90" y2="603.45" stroke="#000" stroke-width="0.8" />
<line x1="44.50" y1="601.90" x2="47.30" y2="601.90" stroke="#000" stroke-width="0.8" />
<line x1="314.50" y1="601.90" x2="311.70" y2="601.90" stroke="#000" stroke-width="0.8" />
<line x1="44.50" y1="591.69" x2="46.10" y2="591.69" stroke="#000" stroke-width="0.8" />
<line x1="314.50" y1="591.69" x2="312.90" y2="591.69" stroke="#000" stroke-width="0.8" />
<line x1="44.50" y1="585.72" x2="46.10" y2="585.72" stroke="#000" stroke-width="0.8" />
<line x1="314.50" y1="585.72" x2="312.90" y2="585.72" stroke="#000" stroke-width="0.8" />
<line x1="44.50" y1="581.48" x2="46.10" y2="581.48" stroke="#000" stroke-width="0.8" />
<line x1="314.50" y1="581.48" x2="312.90" y2="581.48" stroke="#000" stroke-width="0.8" />
<line x1="44.50" y1="578.19" x2="46.10" y2="578.19" stroke="#000" stroke-width="0.8" />
<line x1="314.50" y1="578.19" x2="312.90" y2="578.19" stroke="#000" stroke-width="0.8" />
<line x1="44.50" y1="575.51" x2="46.10" y2="575.51" stroke="#000" stroke-width="0.8" />
<line x1="314.50" y1="575.51" x2="312.90" y2="575.51" stroke="#000" stroke-width="0.8" />
<line x1="44.50" y1="573.23" x2="46.10" y2="573.23" stroke="#000" stroke-width="0.8" />
<line x1="314.50" y1="573.23" x2="312.90" y2="573.23" stroke="#000" stroke-width="0.8" />
<line x1="44.50" y1="571.27" x2="46.10" y2="571.27" stroke="#000" stroke-width="0.8" />
<line x1="314.50" y1="571.27" x2="312.90" y2="571.27" stroke="#000" stroke-width="0.8" />
<line x1="44.50" y1="569.53" x2="46.10" y2="569.53" stroke="#000" stroke-width="0.8" />
<line x1="314.50" y1="569.53" x2="312.90" y2="569.53" stroke="#000" stroke-width="0.8" />
<line x1="44.50" y1="567.98" x2="47.30" y2="567.98" stroke="#000" stroke-width="0.8" />
<line x1="314.50" y1="567.98" x2="311.70" y2="567.98" stroke="#000" stroke-width="0.8" />
<rect x="44.5" y="568.0" width="270.0" height="203.5" fill="none" stroke="#222" stroke-width="0.85"/>
<text x="40.60" y="774.50" font-size="9.5" text-anchor="end" >10<tspan font-size="6.6" dx="0.4" dy="-3.1">30</tspan></text>
<text x="40.60" y="740.58" font-size="9.5" text-anchor="end" >10<tspan font-size="6.6" dx="0.4" dy="-3.1">31</tspan></text>
<text x="40.60" y="706.66" font-size="9.5" text-anchor="end" >10<tspan font-size="6.6" dx="0.4" dy="-3.1">32</tspan></text>
<text x="40.60" y="672.74" font-size="9.5" text-anchor="end" >10<tspan font-size="6.6" dx="0.4" dy="-3.1">33</tspan></text>
<text x="40.60" y="638.82" font-size="9.5" text-anchor="end" >10<tspan font-size="6.6" dx="0.4" dy="-3.1">34</tspan></text>
<text x="40.60" y="604.90" font-size="9.5" text-anchor="end" >10<tspan font-size="6.6" dx="0.4" dy="-3.1">35</tspan></text>
<text x="40.60" y="570.98" font-size="9.5" text-anchor="end" >10<tspan font-size="6.6" dx="0.4" dy="-3.1">36</tspan></text>
<text x="72.22" y="780.60" font-size="9.0" text-anchor="start" >10<tspan font-size="6.6" dx="0.4" dy="-3.1">2</tspan></text>
<text x="189.56" y="780.60" font-size="9.0" text-anchor="start" >10<tspan font-size="6.6" dx="0.4" dy="-3.1">3</tspan></text>
<text x="306.90" y="780.60" font-size="9.0" text-anchor="start" >10<tspan font-size="6.6" dx="0.4" dy="-3.1">4</tspan></text>
<text x="151.20" y="795.80" font-size="14.4" text-anchor="start" class="nb">age [ yr ]</text>
<polyline points="44.5,78.6 69.0,72.0 94.0,65.0 124.0,58.1 150.0,56.0 184.0,54.3 206.7,52.6 244.0,53.0 277.5,53.4" fill="none" stroke="#ffa500" stroke-width="2.2" stroke-linecap="butt" stroke-linejoin="miter" stroke-dasharray="2.2 3.63"/>
<polyline points="44.5,174.0 314.5,174.0" fill="none" stroke="#000" stroke-width="2.2" stroke-linecap="butt" stroke-linejoin="miter" stroke-dasharray="2.2 3.63"/>
<polyline points="44.5,177.7 62.7,178.0 81.4,180.8 104.0,183.6 124.0,186.2 177.5,193.4 178.3,193.0 178.8,184.0 179.4,175.0 181.2,167.5 183.7,162.5 186.2,159.8 191.2,153.0 198.7,147.5 201.2,142.5 207.5,134.0 213.7,130.0 220.0,122.5 222.5,117.5 223.7,105.0 226.2,97.5 230.3,91.3 232.9,100.9 237.2,111.8 244.0,122.7 257.1,136.9 275.6,147.8 282.2,140.2 284.0,108.0 305.3,40.6 314.5,44.8" fill="none" stroke="#ff0000" stroke-width="1.5" stroke-linecap="butt" stroke-linejoin="miter"/>
<polyline points="44.5,168.5 61.0,168.3 81.4,170.6 104.0,173.9 130.0,178.1 164.0,182.5 199.8,187.0 200.6,176.2 201.9,171.9 203.8,167.5 206.2,163.8 210.1,160.6 215.0,156.2 221.2,150.0 223.7,146.2 228.7,138.7 236.2,133.7 242.5,126.2 245.0,117.5 247.3,100.0 249.5,98.7 251.6,96.5 254.0,88.8 256.5,97.0 259.5,104.5 263.0,111.0 266.5,115.5 270.2,121.6 271.0,110.0 275.7,53.4 281.9,46.4 288.9,52.6 296.7,58.8 304.5,62.7 314.5,65.8" fill="none" stroke="#0000ff" stroke-width="1.5" stroke-linecap="butt" stroke-linejoin="miter"/>
<polyline points="44.5,177.1 62.7,177.7 81.4,179.0 95.2,180.5 96.2,181.0 98.2,175.0 99.3,166.3 100.9,157.5 102.7,151.2 106.2,146.2 111.9,140.6 116.9,136.2 121.2,131.2 125.0,125.0 128.7,121.9 146.3,115.6 168.5,106.2 171.7,85.8 173.5,83.0 180.5,70.5 191.4,70.5 198.0,78.2 206.7,85.8 217.6,91.2 228.5,93.4 234.0,83.6 238.3,76.0 244.0,74.9 250.5,83.2 259.3,80.3 264.0,76.0 273.3,76.4 284.2,74.4 295.2,72.0 301.4,71.3 314.5,71.3" fill="none" stroke="#ff0000" stroke-width="1.5" stroke-linecap="butt" stroke-linejoin="miter" stroke-dasharray="5.4 2.4"/>
<polyline points="44.5,164.2 62.7,164.8 81.4,167.4 104.0,170.4 124.0,173.3 132.3,174.2 135.4,159.2 140.1,146.7 149.4,137.4 155.7,131.2 161.9,123.4 171.2,118.7 184.0,114.5 199.1,109.6 201.3,103.0 203.4,90.0 206.7,84.7 212.2,68.3 215.4,60.0 220.9,65.0 230.7,68.3 239.4,73.8 243.8,77.0 250.5,77.0 261.4,74.9 264.0,71.3 266.3,67.4 268.7,62.7 271.0,66.6 274.1,71.3 279.6,73.6 288.9,72.8 295.2,70.5 297.5,67.4 299.8,68.2 302.2,70.8 314.5,70.8" fill="none" stroke="#0000ff" stroke-width="1.5" stroke-linecap="butt" stroke-linejoin="miter" stroke-dasharray="5.4 2.4"/>
<polyline points="44.5,435.0 69.0,425.0 94.0,415.0 114.0,409.3 132.7,405.6 151.4,403.4 174.0,402.2 189.0,400.0 214.0,396.5 234.0,396.0 259.0,398.5 277.5,399.5" fill="none" stroke="#ffa500" stroke-width="2.2" stroke-linecap="butt" stroke-linejoin="miter" stroke-dasharray="2.2 3.63"/>
<polyline points="44.5,432.2 314.5,432.2" fill="none" stroke="#000" stroke-width="2.2" stroke-linecap="butt" stroke-linejoin="miter" stroke-dasharray="2.2 3.63"/>
<polyline points="44.5,476.2 59.0,469.5 74.0,465.5 94.0,460.0 114.0,452.3 174.0,440.2 184.0,436.2 196.5,430.0 209.0,421.2 214.0,417.4 219.6,412.7 222.4,409.0 223.3,404.3 227.1,399.6 230.8,397.8 233.6,396.8 238.3,401.5 243.9,406.2 251.4,409.9 262.6,413.6 275.5,416.5 284.5,380.0 296.5,383.6 305.2,360.3 309.0,365.0 314.5,369.5" fill="none" stroke="#ff0000" stroke-width="1.5" stroke-linecap="butt" stroke-linejoin="miter"/>
<polyline points="44.5,480.5 59.0,473.7 74.0,468.7 114.0,455.1 174.0,442.6 189.0,438.7 214.0,430.1 225.2,424.9 234.6,422.1 242.0,418.3 245.8,412.7 247.6,407.1 253.3,398.7 257.0,401.5 262.6,405.5 270.3,412.5 272.0,387.5 275.2,350.0 276.4,330.5 277.7,337.0 281.5,349.4 286.5,360.0 292.7,371.2 299.0,381.2 305.2,387.5 310.2,390.0 314.5,390.0" fill="none" stroke="#0000ff" stroke-width="1.5" stroke-linecap="butt" stroke-linejoin="miter"/>
<polyline points="44.5,477.5 59.0,470.0 74.0,466.0 94.0,460.5 99.0,458.7 114.0,450.5 132.7,443.0 151.4,432.7 168.2,424.3 170.1,418.7 172.0,406.5 172.7,407.5 177.7,401.2 184.0,392.5 191.0,375.0 196.5,382.5 204.0,391.2 214.0,396.0 219.6,398.7 225.2,400.2 229.9,398.7 232.7,394.0 235.5,388.4 238.3,385.6 241.1,387.5 245.8,391.2 251.4,393.5 257.9,393.5 262.6,390.3 265.4,385.6 268.2,384.7 272.0,389.3 274.0,392.0 280.2,391.2 286.5,387.5 292.7,390.3 299.0,390.0 305.2,388.0 314.5,387.0" fill="none" stroke="#ff0000" stroke-width="1.5" stroke-linecap="butt" stroke-linejoin="miter" stroke-dasharray="5.4 2.4"/>
<polyline points="44.5,478.0 59.0,471.0 74.0,467.0 114.0,453.3 174.0,438.3 176.5,436.2 196.5,430.0 201.5,421.2 206.5,411.2 211.5,395.0 215.2,383.7 216.5,382.5 220.2,386.2 223.3,391.2 232.7,395.9 242.0,400.6 249.5,402.4 260.7,403.4 264.5,400.6 267.3,391.2 269.1,387.5 272.0,390.3 272.7,394.3 278.3,399.0 287.7,397.5 292.7,395.0 295.9,391.2 299.0,393.7 305.2,396.9 314.5,396.9" fill="none" stroke="#0000ff" stroke-width="1.5" stroke-linecap="butt" stroke-linejoin="miter" stroke-dasharray="5.4 2.4"/>
<polyline points="44.5,692.5 69.0,687.0 94.0,683.0 124.0,679.3 174.0,679.3 204.0,677.3 213.3,678.8 224.2,680.4 235.2,682.7 244.5,685.0 259.0,689.5 271.5,692.8 277.5,694.3" fill="none" stroke="#ffa500" stroke-width="2.2" stroke-linecap="butt" stroke-linejoin="miter" stroke-dasharray="2.2 3.63"/>
<polyline points="44.5,698.3 314.5,698.3" fill="none" stroke="#000" stroke-width="2.2" stroke-linecap="butt" stroke-linejoin="miter" stroke-dasharray="2.2 3.63"/>
<polyline points="44.5,724.8 314.5,724.8" fill="none" stroke="#000" stroke-width="2.2" stroke-linecap="butt" stroke-linejoin="miter" stroke-dasharray="2.2 3.63"/>
<polyline points="44.5,727.0 51.5,722.5 61.5,716.2 74.0,711.2 89.0,705.0 99.0,702.5 114.0,697.5 132.7,692.3 151.4,689.0 174.0,684.9 177.1,683.4 185.8,676.9 198.9,667.1 204.0,664.0 210.2,658.6 214.9,653.9 219.6,650.0 221.8,645.3 225.0,636.5 229.6,633.4 232.9,635.9 236.8,642.1 241.5,646.0 247.7,649.9 253.9,653.0 260.2,656.9 266.4,661.6 275.5,667.0 281.9,655.8 285.0,657.4 295.2,657.1 302.2,661.7 309.2,664.8 314.5,663.0" fill="none" stroke="#ff0000" stroke-width="1.5" stroke-linecap="butt" stroke-linejoin="miter"/>
<polyline points="44.5,748.7 49.0,742.5 56.5,735.0 64.0,728.7 74.0,722.5 84.0,716.2 94.0,711.2 106.5,706.2 114.0,703.6 132.7,698.0 151.4,693.3 174.0,688.2 185.8,685.6 201.1,681.2 210.2,676.5 215.7,674.9 221.1,671.8 227.4,669.5 233.7,665.5 239.9,661.6 244.6,656.2 247.7,648.4 250.8,642.1 253.1,639.8 256.3,642.9 260.2,648.4 264.8,654.6 269.5,659.3 271.8,645.2 274.1,615.0 276.5,598.0 279.6,612.0 281.9,628.2 287.4,638.4 292.0,647.7 296.7,655.5 301.4,660.2 306.1,663.3 314.5,661.7" fill="none" stroke="#0000ff" stroke-width="1.5" stroke-linecap="butt" stroke-linejoin="miter"/>
<polyline points="44.5,727.5 61.5,716.7 74.0,711.7 89.0,705.5 96.5,702.5 104.0,696.2 114.0,689.5 125.2,679.3 136.4,673.6 151.4,668.0 169.1,660.6 171.0,654.0 174.0,649.3 176.0,648.0 181.4,646.4 184.7,648.5 191.3,658.3 196.7,668.2 204.0,674.9 210.2,680.4 216.5,685.0 222.7,687.4 229.0,685.0 233.0,680.0 235.0,675.0 236.5,671.9 240.0,675.0 245.0,681.2 250.0,686.2 256.0,688.7 260.0,688.1 262.5,685.0 264.5,677.8 270.0,687.0 275.5,694.7 286.0,683.5 296.0,694.7 303.0,689.0 309.0,694.7 314.5,695.6" fill="none" stroke="#ff0000" stroke-width="1.5" stroke-linecap="butt" stroke-linejoin="miter" stroke-dasharray="5.4 2.4"/>
<polyline points="44.5,748.7 49.0,742.5 56.5,735.0 64.0,728.7 74.0,721.5 79.0,717.5 94.0,710.0 114.0,701.7 132.7,692.3 145.8,687.7 160.7,683.0 174.0,678.3 185.8,674.7 198.9,670.3 204.0,657.8 208.7,654.7 215.7,651.6 218.0,655.5 224.2,664.8 232.0,669.5 239.8,673.4 247.6,677.3 254.0,680.4 259.0,681.2 264.0,678.7 266.4,670.0 268.7,663.2 271.8,672.0 275.0,682.0 286.0,683.5 291.0,681.6 297.5,675.0 302.0,685.0 308.0,690.0 314.5,689.0" fill="none" stroke="#0000ff" stroke-width="1.5" stroke-linecap="butt" stroke-linejoin="miter" stroke-dasharray="5.4 2.4"/>
<line x1="138.20" y1="4.60" x2="144.20" y2="4.60" stroke="#000" stroke-width="1.6" />
<line x1="141.20" y1="2.80" x2="141.20" y2="6.40" stroke="#000" stroke-width="1.6" />
<line x1="141.00" y1="0.50" x2="141.00" y2="6.50" stroke="#000" stroke-width="1.6" />
<text x="171.20" y="57.00" font-size="6.8" text-anchor="start" >23</text>
<line x1="170.70" y1="57.50" x2="206.20" y2="57.50" stroke="#000" stroke-width="1.0" />
<line x1="191.50" y1="52.50" x2="191.50" y2="66.90" stroke="#000" stroke-width="1.0" />
<text x="197.80" y="56.30" font-size="6.8" text-anchor="start" >3</text>
<text x="210.90" y="54.50" font-size="6.8" text-anchor="start" >13</text>
<line x1="205.50" y1="55.00" x2="314.50" y2="55.00" stroke="#000" stroke-width="1.8" />
<text x="180.00" y="66.20" font-size="6.8" text-anchor="start" >18</text>
<line x1="179.10" y1="66.50" x2="194.00" y2="66.50" stroke="#000" stroke-width="1.0" />
<line x1="197.50" y1="67.50" x2="266.30" y2="67.50" stroke="#8a8a8a" stroke-width="3.0" />
<line x1="197.50" y1="67.50" x2="266.30" y2="67.50" stroke="#444" stroke-width="1.0" />
<text x="197.80" y="68.60" font-size="6.8" text-anchor="start" >21</text>
<line x1="232.50" y1="69.40" x2="232.50" y2="63.20" stroke="#000" stroke-width="1.0" />
<polygon points="230.3,64.2 234.7,64.2 232.5,60.7" fill="#000"/>
<line x1="240.50" y1="61.80" x2="240.50" y2="90.00" stroke="#000" stroke-width="1.0" />
<circle cx="220.6" cy="84.2" r="0.7" fill="#000"/>
<text x="222.00" y="84.80" font-size="6.8" text-anchor="start" >22</text>
<text x="251.60" y="25.00" font-size="6.8" text-anchor="start" >5</text>
<line x1="251.60" y1="25.50" x2="288.70" y2="25.50" stroke="#000" stroke-width="1.0" />
<circle cx="273.4" cy="25.7" r="0.9" fill="#000"/>
<text x="303.00" y="34.30" font-size="6.8" text-anchor="start" >4</text>
<line x1="302.30" y1="35.30" x2="308.30" y2="35.30" stroke="#000" stroke-width="1.6" />
<line x1="305.30" y1="33.50" x2="305.30" y2="37.10" stroke="#000" stroke-width="1.6" />
<text x="252.70" y="50.70" font-size="6.8" text-anchor="start" >14</text>
<text x="264.80" y="53.00" font-size="6.8" text-anchor="start" >10</text>
<line x1="269.50" y1="54.00" x2="269.50" y2="60.40" stroke="#000" stroke-width="1.0" />
<line x1="285.50" y1="50.20" x2="285.50" y2="62.00" stroke="#000" stroke-width="1.0" />
<text x="280.40" y="63.80" font-size="6.8" text-anchor="start" >6</text>
<line x1="278.80" y1="64.50" x2="314.50" y2="64.50" stroke="#000" stroke-width="1.0" />
<line x1="309.50" y1="58.80" x2="309.50" y2="78.30" stroke="#000" stroke-width="1.0" />
<text x="252.00" y="72.60" font-size="6.8" text-anchor="start" >15</text>
<line x1="249.90" y1="73.50" x2="314.50" y2="73.50" stroke="#000" stroke-width="1.0" />
<text x="280.40" y="80.70" font-size="6.8" text-anchor="start" >17</text>
<line x1="279.60" y1="81.50" x2="299.80" y2="81.50" stroke="#000" stroke-width="1.0" />
<line x1="291.50" y1="79.80" x2="291.50" y2="83.70" stroke="#000" stroke-width="1.0" />
<text x="240.50" y="83.60" font-size="6.8" text-anchor="start" >11</text>
<line x1="240.00" y1="84.50" x2="280.00" y2="84.50" stroke="#000" stroke-width="1.0" />
<line x1="264.50" y1="79.30" x2="264.50" y2="93.40" stroke="#000" stroke-width="1.0" />
<text x="139.40" y="355.20" font-size="6.8" text-anchor="start" >1</text>
<line x1="138.10" y1="356.10" x2="144.10" y2="356.10" stroke="#000" stroke-width="1.6" />
<line x1="141.10" y1="354.30" x2="141.10" y2="357.90" stroke="#000" stroke-width="1.6" />
<text x="171.60" y="342.00" font-size="6.8" text-anchor="start" >23</text>
<line x1="170.50" y1="342.50" x2="206.10" y2="342.50" stroke="#000" stroke-width="1.0" />
<line x1="191.50" y1="342.50" x2="191.50" y2="354.60" stroke="#000" stroke-width="1.0" />
<polygon points="189.3,353.6 193.7,353.6 191.5,357.1" fill="#000"/>
<text x="210.90" y="340.90" font-size="6.8" text-anchor="start" >13</text>
<line x1="210.20" y1="341.50" x2="314.50" y2="341.50" stroke="#000" stroke-width="1.0" />
<text x="197.80" y="355.00" font-size="6.8" text-anchor="start" >3</text>
<line x1="197.10" y1="355.50" x2="252.70" y2="355.50" stroke="#000" stroke-width="1.0" />
<line x1="232.50" y1="355.50" x2="232.50" y2="367.70" stroke="#000" stroke-width="1.0" />
<polygon points="230.3,366.7 234.7,366.7 232.5,370.2" fill="#000"/>
<text x="252.00" y="304.80" font-size="6.8" text-anchor="start" >5</text>
<line x1="251.50" y1="305.50" x2="288.50" y2="305.50" stroke="#000" stroke-width="1.0" />
<circle cx="272.7" cy="305.5" r="0.9" fill="#000"/>
<text x="253.50" y="345.00" font-size="6.8" text-anchor="start" >14</text>
<circle cx="252.7" cy="345.7" r="0.8" fill="#000"/>
<line x1="285.50" y1="335.00" x2="285.50" y2="353.00" stroke="#000" stroke-width="1.0" />
<text x="280.20" y="354.00" font-size="6.8" text-anchor="start" >6</text>
<line x1="279.00" y1="354.50" x2="314.50" y2="354.50" stroke="#000" stroke-width="1.0" />
<line x1="309.50" y1="354.70" x2="309.50" y2="365.70" stroke="#000" stroke-width="1.0" />
<polygon points="307.3,364.7 311.7,364.7 309.5,368.2" fill="#000"/>
<text x="280.20" y="364.00" font-size="6.8" text-anchor="start" >12</text>
<line x1="279.00" y1="364.50" x2="299.60" y2="364.50" stroke="#000" stroke-width="1.0" />
<line x1="290.50" y1="364.60" x2="290.50" y2="376.20" stroke="#000" stroke-width="1.0" />
<polygon points="288.3,375.2 292.7,375.2 290.5,378.7" fill="#000"/>
<text x="179.50" y="374.80" font-size="6.8" text-anchor="start" >18</text>
<line x1="178.80" y1="375.50" x2="314.50" y2="375.50" stroke="#000" stroke-width="1.0" />
<line x1="240.50" y1="375.70" x2="240.50" y2="388.40" stroke="#000" stroke-width="1.0" />
<text x="250.20" y="375.20" font-size="6.8" text-anchor="start" >15</text>
<text x="264.00" y="375.00" font-size="6.8" text-anchor="start" >10</text>
<text x="198.50" y="386.60" font-size="6.8" text-anchor="start" >21</text>
<text x="222.70" y="386.00" font-size="6.8" text-anchor="start" >22</text>
<line x1="197.20" y1="387.50" x2="253.30" y2="387.50" stroke="#000" stroke-width="1.0" />
<line x1="232.50" y1="387.30" x2="232.50" y2="398.50" stroke="#000" stroke-width="1.0" />
<polygon points="230.3,397.5 234.7,397.5 232.5,401.0" fill="#000"/>
<text x="243.00" y="389.20" font-size="6.8" text-anchor="start" >11</text>
<line x1="240.00" y1="388.50" x2="280.20" y2="388.50" stroke="#000" stroke-width="1.0" />
<line x1="264.50" y1="381.90" x2="264.50" y2="404.00" stroke="#000" stroke-width="1.0" />
<line x1="269.50" y1="370.80" x2="269.50" y2="381.70" stroke="#000" stroke-width="1.0" />
<text x="139.40" y="650.00" font-size="6.8" text-anchor="start" >1</text>
<line x1="138.10" y1="651.30" x2="144.10" y2="651.30" stroke="#000" stroke-width="1.6" />
<line x1="141.10" y1="649.50" x2="141.10" y2="655.10" stroke="#000" stroke-width="1.6" />
<text x="171.60" y="641.80" font-size="6.8" text-anchor="start" >2318</text>
<line x1="170.50" y1="643.00" x2="252.00" y2="643.00" stroke="#000" stroke-width="1.6" />
<line x1="191.50" y1="643.00" x2="191.50" y2="654.80" stroke="#000" stroke-width="1.0" />
<polygon points="189.3,653.8 193.7,653.8 191.5,657.3" fill="#000"/>
<text x="197.80" y="637.80" font-size="6.8" text-anchor="start" >3</text>
<line x1="197.00" y1="638.50" x2="252.40" y2="638.50" stroke="#000" stroke-width="1.0" />
<text x="210.90" y="638.80" font-size="6.8" text-anchor="start" >13</text>
<line x1="210.00" y1="638.50" x2="314.50" y2="638.50" stroke="#000" stroke-width="1.3" />
<line x1="226.00" y1="641.50" x2="276.00" y2="641.50" stroke="#000" stroke-width="1.0" />
<text x="198.20" y="646.60" font-size="6.8" text-anchor="start" >21</text>
<line x1="197.00" y1="647.50" x2="254.00" y2="647.50" stroke="#000" stroke-width="1.0" />
<line x1="232.50" y1="640.70" x2="232.50" y2="650.20" stroke="#000" stroke-width="1.0" />
<polygon points="230.3,649.2 234.7,649.2 232.5,652.7" fill="#000"/>
<line x1="240.50" y1="643.00" x2="240.50" y2="653.70" stroke="#000" stroke-width="1.0" />
<polygon points="238.3,652.7 242.7,652.7 240.5,656.2" fill="#000"/>
<line x1="252.50" y1="645.00" x2="252.50" y2="656.80" stroke="#000" stroke-width="1.0" />
<polygon points="250.3,655.8 254.7,655.8 252.5,659.3" fill="#000"/>
<text x="225.40" y="643.50" font-size="6.8" text-anchor="start" >22</text>
<text x="242.90" y="644.50" font-size="6.8" text-anchor="start" >11</text>
<text x="253.90" y="655.00" font-size="6.8" text-anchor="start" >15</text>
<line x1="226.00" y1="645.50" x2="279.60" y2="645.50" stroke="#000" stroke-width="1.0" />
<line x1="281.50" y1="655.50" x2="314.50" y2="655.50" stroke="#000" stroke-width="1.0" />
<text x="280.20" y="591.00" font-size="6.8" text-anchor="start" >6</text>
<line x1="279.00" y1="592.50" x2="314.50" y2="592.50" stroke="#000" stroke-width="1.0" />
<line x1="309.50" y1="592.00" x2="309.50" y2="603.70" stroke="#000" stroke-width="1.0" />
<polygon points="307.3,602.7 311.7,602.7 309.5,606.2" fill="#000"/>
<text x="280.40" y="626.70" font-size="6.8" text-anchor="start" >17</text>
<line x1="278.80" y1="627.50" x2="299.80" y2="627.50" stroke="#000" stroke-width="1.0" />
<line x1="290.50" y1="627.50" x2="290.50" y2="637.40" stroke="#000" stroke-width="1.0" />
<polygon points="288.3,636.4 292.7,636.4 290.5,639.9" fill="#000"/>
<line x1="285.50" y1="640.50" x2="285.50" y2="650.70" stroke="#000" stroke-width="1.0" />
<polygon points="283.3,649.7 287.7,649.7 285.5,653.2" fill="#000"/>
<line x1="305.50" y1="637.60" x2="305.50" y2="652.20" stroke="#000" stroke-width="1.0" />
<polygon points="303.3,651.2 307.7,651.2 305.5,654.7" fill="#000"/>
<text x="303.00" y="643.50" font-size="6.8" text-anchor="start" >4</text>
<line x1="264.50" y1="637.50" x2="264.50" y2="659.00" stroke="#000" stroke-width="1.0" />
<line x1="267.50" y1="640.00" x2="267.50" y2="652.00" stroke="#000" stroke-width="1.0" />
<polyline points="49.9,10.2 66.2,10.2" fill="none" stroke="#ff0000" stroke-width="1.5" stroke-linecap="butt" stroke-linejoin="miter"/>
<text x="71.20" y="12.95" font-size="8.1" text-anchor="start" >Model A</text>
<polyline points="49.9,20.9 66.2,20.9" fill="none" stroke="#0000ff" stroke-width="1.5" stroke-linecap="butt" stroke-linejoin="miter"/>
<text x="71.20" y="23.65" font-size="8.1" text-anchor="start" >Model B</text>
<polyline points="50.9,31.6 63.9,31.6" fill="none" stroke="#ff0000" stroke-width="1.5" stroke-linecap="butt" stroke-linejoin="miter" stroke-dasharray="5.4 2.2"/>
<text x="71.20" y="34.35" font-size="8.1" text-anchor="start" >Model C</text>
<polyline points="50.9,42.3 63.9,42.3" fill="none" stroke="#0000ff" stroke-width="1.5" stroke-linecap="butt" stroke-linejoin="miter" stroke-dasharray="5.4 2.2"/>
<text x="71.20" y="45.05" font-size="8.1" text-anchor="start" >Model D</text>
<polyline points="50.7,53.0 65.0,53.0" fill="none" stroke="#ffa500" stroke-width="2.2" stroke-linecap="butt" stroke-linejoin="miter" stroke-dasharray="2.2 3.7"/>
<text x="71.20" y="55.75" font-size="8.1" text-anchor="start" >Type Ia</text>
<text transform="translate(16.2,153.0) rotate(-90)" class="nb" font-size="14.4">L<tspan font-size="9.7" dy="1.6">1GHz </tspan><tspan dy="-1.6" dx="-1.6">[</tspan><tspan dx="0.6"> erg s</tspan><tspan font-size="10.3" dy="-4.9" dx="0.9">−</tspan><tspan font-size="10.3" dx="0.6">1</tspan><tspan dy="4.9" dx="1.4"> ]</tspan></text>
<text transform="translate(16.2,453.0) rotate(-90)" class="nb" font-size="14.4">L<tspan font-size="10.1" dy="1.6">1<tspan dx="1.6">−</tspan><tspan dx="1.6">100GeV </tspan></tspan><tspan dy="-1.6" dx="0.6">[</tspan><tspan dx="-0.6"> erg s</tspan><tspan font-size="10.3" dy="-4.9" dx="0.9">−</tspan><tspan font-size="10.3" dx="0.6">1</tspan><tspan dy="4.9" dx="1.4"> ]</tspan></text>
<text transform="translate(16.2,729.1) rotate(-90)" class="nb" font-size="14.4">L<tspan font-size="10.1" dy="1.6">1<tspan dx="1.6">−</tspan><tspan dx="1.6">10TeV </tspan></tspan><tspan dy="-1.6" dx="0.6">[</tspan><tspan dx="1.2"> erg s</tspan><tspan font-size="10.3" dy="-4.9" dx="0.9">−</tspan><tspan font-size="10.3" dx="0.6">1</tspan><tspan dy="4.9" dx="1.4"> ]</tspan></text>
<text x="155.3" y="259.2" font-size="14.5" font-family="Liberation Serif, serif" style="stroke-width:0.15px">(a)</text>
<text x="155.3" y="546.0" font-size="14.5" font-family="Liberation Serif, serif" style="stroke-width:0.15px">(b)</text>
<text x="155.3" y="824.2" font-size="14.5" font-family="Liberation Serif, serif" style="stroke-width:0.15px">(c)</text>
<text x="206.80" y="186.10" font-size="7.75" text-anchor="start" >VLA(100μJ@1.4GHz, 10kpc)</text>
<text x="217.10" y="443.00" font-size="8.0" text-anchor="start" ><tspan font-style="italic">Fermi</tspan> − LAT(10yrs, 1kpc)</text>
<text x="217.70" y="711.30" font-size="7.8" text-anchor="start" >VERITAS(50hrs, 1kpc)</text>
<text x="217.70" y="737.70" font-size="8.0" text-anchor="start" >CTA(North, 50hrs, 1kpc)</text>
</g></svg></body></html>
